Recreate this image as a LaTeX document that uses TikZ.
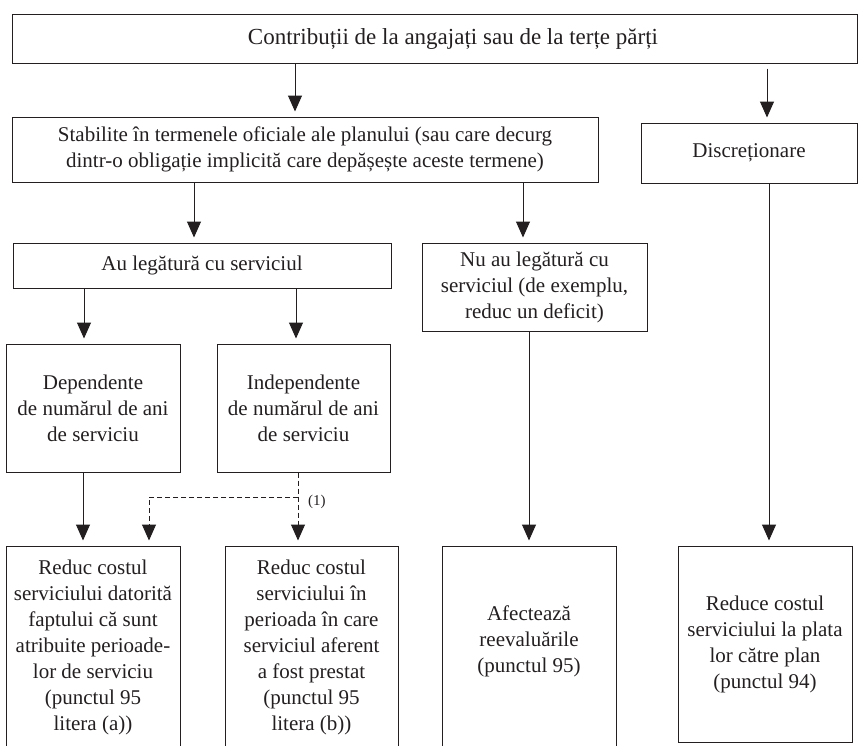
\documentclass[tikz,border=0pt]{standalone}
\usepackage{fontspec}
\setmainfont{Liberation Serif}
\usetikzlibrary{arrows.meta}
\definecolor{ink}{HTML}{231F20}
\begin{document}
\begin{tikzpicture}[x=1pt,y=-1pt,
  box/.style={draw=ink, line width=1pt, text=ink, align=center, inner sep=0pt,
    font=\fontsize{21}{26}\selectfont},
  txt/.style={text=ink, align=center, inner sep=0pt, font=\fontsize{21}{26}\selectfont},
  arr/.style={draw=ink, line width=1pt, -{Triangle[length=16pt,width=14pt]}, shorten >=5pt},
  dsh/.style={draw=ink, line width=1pt, dash pattern=on 5pt off 3pt}]
\useasboundingbox (0,0) rectangle (859,745);
\clip (0,0) rectangle (859,745);

% boxes
\node[box, minimum width=845pt, minimum height=49pt] (top) at (434.5,38.5) {};
\node[txt, font=\fontsize{23}{27}\selectfont] (toptxt) at (453,38.5)
  {Contribuții de la angajați sau de la terțe părți};
\node[box, minimum width=586pt, minimum height=65pt] (stab) at (305,149.5)
  {Stabilite în termenele oficiale ale planului (sau care decurg\\dintr-o obligație implicită care depășește aceste termene)};
\node[box, minimum width=216pt, minimum height=60pt] (disc) at (749,153) {Discreționare};
\node[box, minimum width=378pt, minimum height=45pt] (au) at (202,265.5) {Au legătură cu serviciul};
\node[box, minimum width=225pt, minimum height=88pt] (nuau) at (534.5,287)
  {Nu au legătură cu\\serviciul (de exemplu,\\reduc un deficit)};
\node[box, minimum width=174pt, minimum height=128pt] (dep) at (93,408)
  {Dependente\\de numărul de ani\\de serviciu};
\node[box, minimum width=173pt, minimum height=128pt] (indep) at (303.5,408)
  {Independente\\de numărul de ani\\de serviciu};
\node[box, minimum width=174pt, minimum height=202pt] (ra) at (93,647)
  {Reduc costul\\serviciului datorită\\faptului că sunt\\atribuite perioade-\\lor de serviciu\\(punctul 95\\litera (a))};
\node[box, minimum width=173pt, minimum height=202pt] (rb) at (311.5,647)
  {Reduc costul\\serviciului în\\perioada în care\\serviciul aferent\\a fost prestat\\(punctul 95\\litera (b))};
\node[box, minimum width=174pt, minimum height=202pt] (afect) at (529,647) {};
\node[txt] (afecttxt) at (529,641) {Afectează\\reevaluările\\(punctul 95)};
\node[box, minimum width=174pt, minimum height=196pt] (red) at (765,644)
  {Reduce costul\\serviciului la plata\\lor către plan\\(punctul 94)};

% solid connectors
\draw[arr] (top.south -| 295,0) -- (stab.north -| 295,0);
\draw[arr, shorten <=5pt] (top.south -| 767,0) -- (disc.north -| 767,0);
\draw[arr] (stab.south -| 194,0) -- (au.north -| 194,0);
\draw[arr] (stab.south -| 523,0) -- (nuau.north -| 523,0);
\draw[arr] (au.south -| 84,0) -- (dep.north -| 84,0);
\draw[arr] (au.south -| 296,0) -- (indep.north -| 296,0);
\draw[arr] (nuau.south -| 529,0) -- (afect.north -| 529,0);
\draw[arr] (disc.south -| 769,0) -- (red.north -| 769,0);
\draw[arr] (dep.south -| 83,0) -- (ra.north -| 83,0);

% dashed connectors
\coordinate (split) at (298,497);
\draw[dsh, arr] (indep.south -| split) -- (rb.north -| split);
\draw[dsh, arr] (split) -- (split -| 149,0) -- (ra.north -| 149,0);
\node[text=ink, inner sep=0pt, font=\fontsize{15}{17}\selectfont, anchor=west] (note) at (308,502) {(1)};
\end{tikzpicture}
\end{document}
